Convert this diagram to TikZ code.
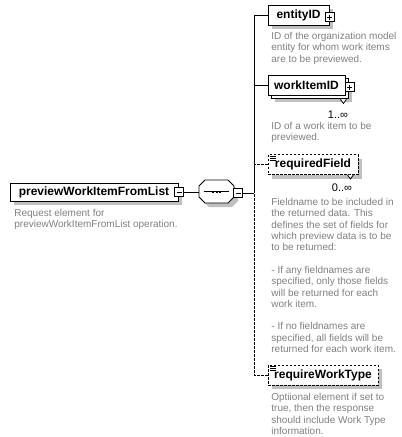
\documentclass[tikz,border=0pt]{standalone}
\usepackage{fontspec}
\setmainfont{Liberation Sans}
\usepackage{tikz}
\usetikzlibrary{calc}
\usetikzlibrary{shadows}
\usepackage{color}
\definecolor{shadowgray}{RGB}{192, 192, 192}
\definecolor{descgray}{RGB}{128, 128, 128}

\begin{document}
\begin{tikzpicture}[x=1pt, y=-1pt, line width=0.8pt,
        elem/.style      = {draw, fill=white, inner sep=0pt, minimum height=20pt,
                            font=\fontsize{12}{14}\selectfont\bfseries,
                            drop shadow={shadow xshift=4pt, shadow yshift=-4pt, fill=shadowgray, opacity=1}},
        optelem/.style   = {elem, dash pattern=on 2.5pt off 1.5pt},
        multielem/.style = {draw, fill=white, inner sep=0pt, minimum height=20pt,
                            font=\fontsize{12}{14}\selectfont\bfseries,
                            drop shadow={shadow xshift=7pt, shadow yshift=-7pt, fill=shadowgray, opacity=1},
                            drop shadow={shadow xshift=3pt, shadow yshift=-3pt, fill=white, draw=black, opacity=1}},
        seqbox/.style    = {inner sep=0pt, minimum width=35pt, minimum height=23pt},
        pmbox/.style     = {draw, fill=white, inner sep=0pt, minimum size=9pt},
        minusbox/.style  = {pmbox, path picture={
                              \draw ([xshift=2pt]path picture bounding box.west) -- ([xshift=-2pt]path picture bounding box.east);}},
        plusbox/.style   = {pmbox, path picture={
                              \draw ([xshift=2pt]path picture bounding box.west) -- ([xshift=-2pt]path picture bounding box.east);
                              \draw ([yshift=-2pt]path picture bounding box.north) -- ([yshift=2pt]path picture bounding box.south);}},
        optline/.style   = {dash pattern=on 2.5pt off 1.5pt},
        desc/.style      = {anchor=north west, inner sep=0pt, align=left, text=descgray,
                            font=\fontsize{10}{11.3}\selectfont},
        card/.style      = {anchor=north east, inner sep=0pt, font=\fontsize{11}{13}\selectfont}]
    \useasboundingbox (0, 0) rectangle (402, 437);

    % root element and sequence compositor
    \node[elem, minimum width=168pt, minimum height=18pt] (root)  at ( 94.0, 192.0) {previewWorkItemFromList};
    \node[minusbox]                                       (rootm) at (179.0, 192.0) {};
    \node[seqbox]                                         (seq)   at (216.5, 191.5) {};
    \fill[shadowgray]  ($(seq.center)+(4,4)$) +(-17.5,-5.5) -- +(-11.5,-11.5) -- +(11.5,-11.5) -- +(17.5,-5.5)
                                              -- +(17.5,5.5) -- +(11.5,11.5) -- +(-11.5,11.5) -- +(-17.5,5.5) -- cycle;
    \draw[fill=white]  (seq.center)           +(-17.5,-5.5) -- +(-11.5,-11.5) -- +(11.5,-11.5) -- +(17.5,-5.5)
                                              -- +(17.5,5.5) -- +(11.5,11.5) -- +(-11.5,11.5) -- +(-17.5,5.5) -- cycle;
    \draw ([xshift=5pt]seq.west) -- ([xshift=-5pt]seq.east);
    \foreach \dx in {-3.5, 0, 3.5}
        \fill ($(seq.center)+(\dx-1,-1)$) rectangle +(2,2);
    \node[minusbox]                                       (seqm)  at (238.0, 193.0) {};
    \coordinate                                           (bus)   at (254.0, 193.0);

    % child elements
    \node[elem, minimum width=61pt]     (eid)  at (298.5,  15.0) {entityID};
    \node[plusbox]                      (eidp) at ($(eid.east)+(0,2)$) {};
    \node[multielem, minimum width=77pt] (wid)  at (306.5,  85.0) {workItemID};
    \node[plusbox]                      (widp) at ($(wid.east)+(4,2)$) {};
    \node[optelem, minimum width=90pt]  (rf)   at (313.0, 164.5) {requiredField};
    \node[optelem, minimum width=110pt] (rwt)  at (323.0, 375.0) {requireWorkType};
    \foreach \dy in {2, 4, 6} {
        \draw[line width=0.6pt] ($(rf.north west)+(2,\dy)$)  -- +(6,0);
        \draw[line width=0.6pt] ($(rwt.north west)+(2,\dy)$) -- +(6,0);
    }

    % cardinality
    \draw[fill=white] ($(wid.south east)+(-5,4)$) -- ++(3,4) -- ++(3,-4);
    \draw[fill=white] ($(rf.south east)+(-11,0)$) -- ++(3,4) -- ++(3,-4);
    \node[card] (widc) at ($(wid.south east)+(3,15)$) {1..∞};
    \node[card] (rfc)  at ($(rf.south east)+(-6,9)$)  {0..∞};

    % connectors
    \draw (rootm.east) -- (rootm.east -| seq.west);
    \draw (seqm.east) -- (bus);
    \draw (eid.west) -| (bus);
    \draw (wid.west) -- (wid.west -| bus);
    \draw[optline] (rf.west) -- (rf.west -| bus);
    \draw[optline] (rwt.west) -| (bus);

    % annotations
    \node[desc] (rootd) at ( 14, 209) {Request element for\\previewWorkItemFromList operation.};
    \node[desc] (eidd)  at (271,  32) {ID of the organization model\\entity for whom work items\\are to be previewed.};
    \node[desc] (widd)  at (271, 122) {ID of a work item to be\\previewed.};
    \node[desc] (rfd)   at (271, 198) {Fieldname to be included in\\the returned data. This\\defines the set of fields for\\which preview data is to be\\to be returned:\\[11.3pt]- If any fieldnames are\\specified, only those fields\\will be returned for each\\work item.\\[11.3pt]- If no fieldnames are\\specified, all fields will be\\returned for each work item.};
    \node[desc] (rwtd)  at (271, 393) {Optiional element if set to\\true, then the response\\should include Work Type\\information.};
\end{tikzpicture}
\end{document}
